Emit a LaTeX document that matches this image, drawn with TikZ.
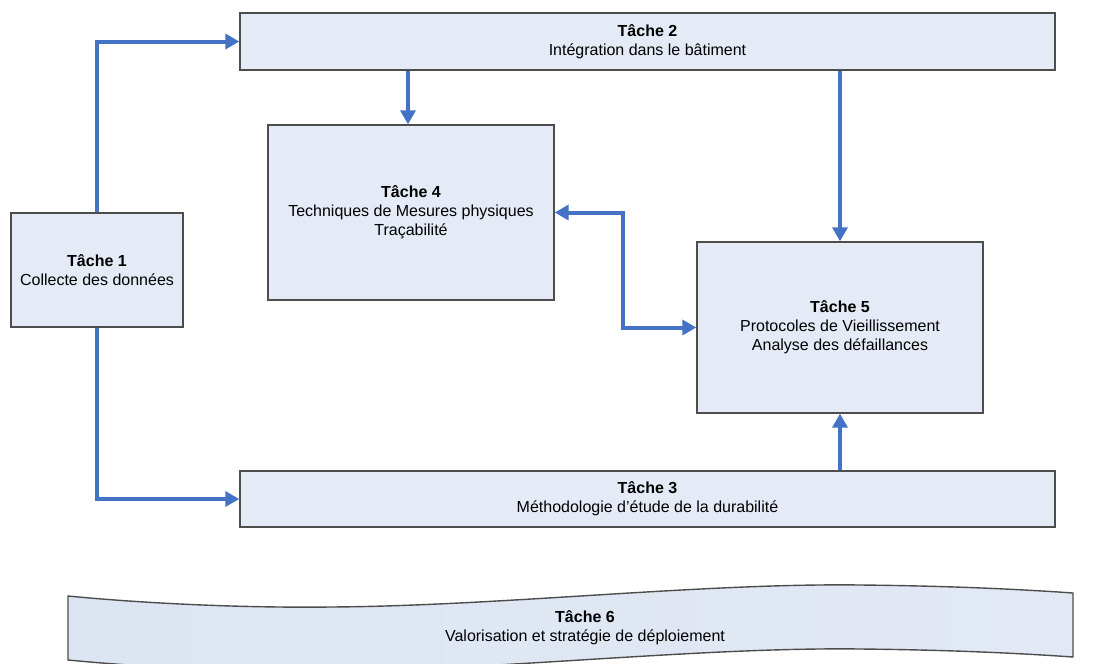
\documentclass[tikz,border=0pt]{standalone}
\usepackage{fontspec}
\setmainfont{Liberation Sans}
\usetikzlibrary{arrows.meta}
\definecolor{boxfill}{HTML}{E4EBF6}
\definecolor{boxdraw}{HTML}{4D4D4D}
\definecolor{arr}{HTML}{4472C4}
\definecolor{tapeL}{HTML}{DCE5F2}
\definecolor{tapeM}{HTML}{B3C7E1}
\definecolor{tapeR}{HTML}{E2E9F4}
\begin{document}
\begin{tikzpicture}[x=1pt,y=-1pt,
  box/.style={draw=boxdraw, line width=1.4pt, fill=boxfill, align=center,
    font=\fontsize{16}{19}\selectfont, inner sep=0pt},
  label6/.style={align=center, font=\fontsize{16}{19}\selectfont, inner sep=0pt},
  flow/.style={draw=arr, line width=4pt, -{Triangle[length=14pt,width=15pt]}},
  flowboth/.style={draw=arr, line width=4pt, {Triangle[length=14pt,width=15pt]}-{Triangle[length=14pt,width=15pt]}}]
\useasboundingbox (0,0) rectangle (1101,664);
\clip (0,0) rectangle (1101,664);
% tape (Tache 6)
\path[draw=boxdraw, line width=1.4pt, left color=tapeL, middle color=tapeM, right color=tapeR]
  (68,596) .. controls (150,604) and (250,608) .. (330,607)
  .. controls (500,606) and (700,583) .. (860,585)
  .. controls (960,586) and (1030,590) .. (1073,593)
  -- (1073,657)
  .. controls (1030,654) and (960,650) .. (860,649)
  .. controls (700,647) and (500,670) .. (330,671)
  .. controls (250,672) and (150,668) .. (68,660) -- cycle;
\node[label6] (t6) at (585,628) {\textbf{Tâche 6}\\Valorisation et stratégie de déploiement};
% boxes
\node[box, minimum width=815pt, minimum height=57pt] (t2) at (647.5,41.5) {\textbf{Tâche 2}\\Intégration dans le bâtiment};
\node[box, minimum width=172pt, minimum height=114pt] (t1) at (97,270) {\textbf{Tâche 1}\\Collecte des données};
\node[box, minimum width=286pt, minimum height=175pt] (t4) at (411,212.5) {\textbf{Tâche 4}\\Techniques de Mesures physiques\\Traçabilité};
\node[box, minimum width=286pt, minimum height=171pt] (t5) at (840,327.5) {\textbf{Tâche 5}\\Protocoles de Vieillissement\\Analyse des défaillances};
\node[box, minimum width=815pt, minimum height=56pt] (t3) at (647.5,499) {\textbf{Tâche 3}\\Méthodologie d\symbol{39}étude de la durabilité};
% connectors
\draw[flow] (t1.north) |- (t2.west);
\draw[flow] (t1.south) |- (t3.west);
\draw[flow] ([xshift=-3pt]t2.south -| t4.north) -- ([xshift=-3pt]t4.north);
\draw[flow] (t2.south -| t5.north) -- (t5.north);
\draw[flow] (t3.north -| t5.south) -- (t5.south);
\draw[flowboth] (t4.east) -- ++(68,0) |- (t5.west);
\end{tikzpicture}
\end{document}
